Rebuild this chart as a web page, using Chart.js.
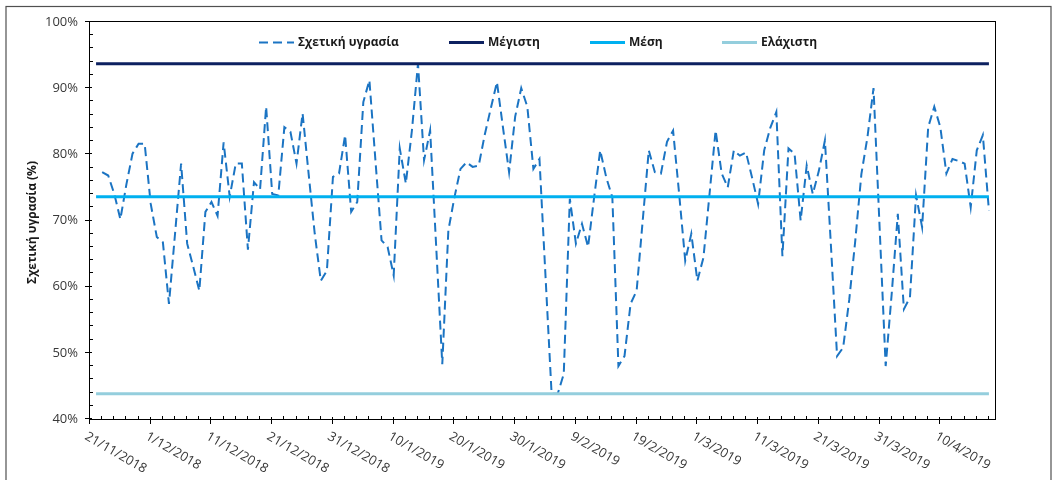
<!DOCTYPE html>
<html>
<head>
<meta charset="utf-8">
<script src="https://cdn.jsdelivr.net/npm/chart.js@4/dist/chart.umd.min.js"></script>
<style>
  html, body { margin: 0; padding: 0; background: #ffffff; }
  canvas { display: block; }
</style>
</head>
<body>
<canvas id="chart" width="1057" height="480"></canvas>
<script>
// Day numbers count from 21/11/2018 (day 0); readings start on 23/11/2018.
const firstDay = 2;

// Daily relative humidity (%), 23/11/2018 – 18/4/2019
const humidity = [
  77.3, 76.8, 74.0, 70.2, 75.5, 80.1, 81.6, 81.6, 72.5, 67.5,
  66.7, 57.4, 68.0, 78.6, 66.5, 63.0, 59.4, 71.3, 72.8, 70.7,
  81.8, 73.6, 78.6, 78.6, 65.6, 75.8, 74.7, 87.2, 74.0, 73.8,
  84.1, 83.4, 78.6, 86.2, 77.0, 68.0, 60.9, 62.4, 76.6, 77.1,
  82.9, 71.3, 72.8, 87.9, 91.2, 79.0, 67.0, 66.0, 61.7, 80.9,
  75.6, 83.6, 93.7, 79.1, 83.6, 66.0, 48.3, 68.5, 73.5, 77.8,
  78.8, 78.1, 78.3, 83.0, 87.0, 90.9, 84.0, 77.3, 85.7, 90.0,
  87.2, 77.8, 79.3, 61.5, 43.8, 43.8, 46.8, 73.3, 66.5, 69.5,
  66.0, 73.5, 80.6, 76.5, 73.5, 48.0, 49.5, 57.4, 59.4, 70.0,
  80.6, 77.3, 77.1, 81.9, 83.6, 74.0, 63.9, 68.0, 60.9, 64.4,
  74.0, 83.6, 77.1, 75.0, 80.6, 79.8, 80.3, 76.5, 72.5, 80.6,
  84.0, 86.4, 64.6, 80.9, 80.1, 70.0, 78.3, 74.0, 77.5, 82.1,
  66.0, 49.5, 50.8, 58.0, 67.0, 77.0, 82.6, 90.0, 69.0, 48.0,
  59.0, 71.0, 56.6, 58.4, 73.8, 69.0, 84.1, 87.2, 84.1, 77.1,
  79.3, 79.0, 78.6, 72.0, 80.6, 82.9, 71.5
];

// Reference levels of the period
const maxLevel = 93.7;
const meanLevel = 73.6;
const minLevel = 43.8;
const levelSpan = [1, 148];

// Date labels every 10 days along the horizontal axis
const dateLabels = [
  '21/11/2018', '1/12/2018', '11/12/2018', '21/12/2018', '31/12/2018',
  '10/1/2019', '20/1/2019', '30/1/2019', '9/2/2019', '19/2/2019',
  '1/3/2019', '11/3/2019', '21/3/2019', '31/3/2019', '10/4/2019'
];

const seriesNames = ['Σχετική υγρασία', 'Μέγιστη', 'Μέση', 'Ελάχιστη'];
const yAxisTitle = 'Σχετική υγρασία (%)';

const FONT = '"Open Sans", "Noto Sans", "DejaVu Sans", sans-serif';
const TEXT = '#383838';

const humidityPoints = humidity.map((v, i) => ({ x: firstDay + i, y: v }));
const levelLine = v => levelSpan.map(d => ({ x: d, y: v }));

// Frame, tick marks, rotated date labels, axis title and in-plot legend
const decorations = {
  id: 'decorations',
  afterDraw(chart) {
    const { ctx, chartArea: a, scales: { x, y } } = chart;
    ctx.save();

    // outer frame of the figure
    ctx.strokeStyle = '#505050';
    ctx.lineWidth = 1.2;
    ctx.strokeRect(6, 6.5, 1045, 490);

    // plot frame
    ctx.strokeStyle = '#000000';
    ctx.lineWidth = 1;
    ctx.strokeRect(a.left - 0.5, a.top - 0.5, a.right - a.left + 1, a.bottom - a.top + 1);

    // vertical axis tick marks
    ctx.beginPath();
    for (let v = 40; v <= 100; v += 2) {
      const py = Math.round(y.getPixelForValue(v)) - 0.5;
      if (v % 10 === 0) { ctx.moveTo(a.left - 5, py); ctx.lineTo(a.left + 2, py); }
      else { ctx.moveTo(a.left, py); ctx.lineTo(a.left + 3, py); }
    }
    // horizontal axis tick marks
    for (let d = 0; d <= 148; d += 2) {
      const px = Math.round(x.getPixelForValue(d)) - 0.5;
      if (d % 10 === 0) { ctx.moveTo(px, a.bottom - 2); ctx.lineTo(px, a.bottom + 5); }
      else { ctx.moveTo(px, a.bottom - 3); ctx.lineTo(px, a.bottom); }
    }
    ctx.stroke();

    // rotated date labels
    ctx.fillStyle = TEXT;
    ctx.font = '13px ' + FONT;
    ctx.textAlign = 'left';
    ctx.textBaseline = 'top';
    dateLabels.forEach((lab, k) => {
      const px = x.getPixelForValue(k * 10);
      ctx.save();
      ctx.translate(px - 1, a.bottom + 11);
      ctx.rotate(30 * Math.PI / 180);
      ctx.fillText(lab, 0, 0);
      ctx.restore();
    });

    // vertical axis title
    ctx.save();
    ctx.translate(33, (a.top + a.bottom) / 2 + 2);
    ctx.rotate(-Math.PI / 2);
    ctx.fillStyle = '#1a1a1a';
    ctx.font = 'bold 12px ' + FONT;
    ctx.textAlign = 'center';
    ctx.textBaseline = 'middle';
    ctx.fillText(yAxisTitle, 0, 0);
    ctx.restore();

    // legend inside the plot
    const slots = [259, 449, 590, 722];
    const ly = 42.5;
    ctx.font = 'bold 12px ' + FONT;
    ctx.textBaseline = 'middle';
    chart.data.datasets.forEach((ds, i) => {
      const sx = slots[i];
      ctx.save();
      ctx.strokeStyle = ds.borderColor;
      ctx.lineWidth = ds.borderWidth;
      ctx.setLineDash(ds.borderDash || []);
      ctx.beginPath();
      ctx.moveTo(sx, ly);
      ctx.lineTo(sx + 35, ly);
      ctx.stroke();
      ctx.restore();
      ctx.fillStyle = '#1a1a1a';
      ctx.fillText(ds.label, sx + 39, ly);
    });

    ctx.restore();
  }
};

new Chart(document.getElementById('chart'), {
  type: 'line',
  data: {
    datasets: [
      {
        label: seriesNames[0], data: humidityPoints,
        borderColor: '#1b74c3', borderWidth: 2, borderDash: [9, 5],
        borderCapStyle: 'butt', pointRadius: 0, tension: 0, order: 4
      },
      {
        label: seriesNames[1], data: levelLine(maxLevel),
        borderColor: '#0d2160', borderWidth: 3, pointRadius: 0, order: 3
      },
      {
        label: seriesNames[2], data: levelLine(meanLevel),
        borderColor: '#00b0f0', borderWidth: 3, pointRadius: 0, order: 2
      },
      {
        label: seriesNames[3], data: levelLine(minLevel),
        borderColor: '#94cedd', borderWidth: 3, pointRadius: 0, order: 1
      }
    ]
  },
  options: {
    responsive: false,
    animation: false,
    devicePixelRatio: 1,
    layout: { padding: { left: 0, right: 62, top: 22, bottom: 0 } },
    plugins: { legend: { display: false }, tooltip: { enabled: false } },
    scales: {
      x: {
        type: 'linear', min: 0, max: 149,
        grid: { display: false, drawTicks: false },
        border: { display: false },
        ticks: { display: false },
        afterFit(s) { s.height = 61; }
      },
      y: {
        min: 40, max: 100,
        grid: { display: false, drawTicks: false },
        border: { display: false },
        ticks: {
          stepSize: 10, padding: 12, color: TEXT,
          font: { family: FONT, size: 13 },
          callback: v => v + '%'
        },
        afterFit(s) { s.width = 90; }
      }
    }
  },
  plugins: [decorations]
});
</script>
</body>
</html>
